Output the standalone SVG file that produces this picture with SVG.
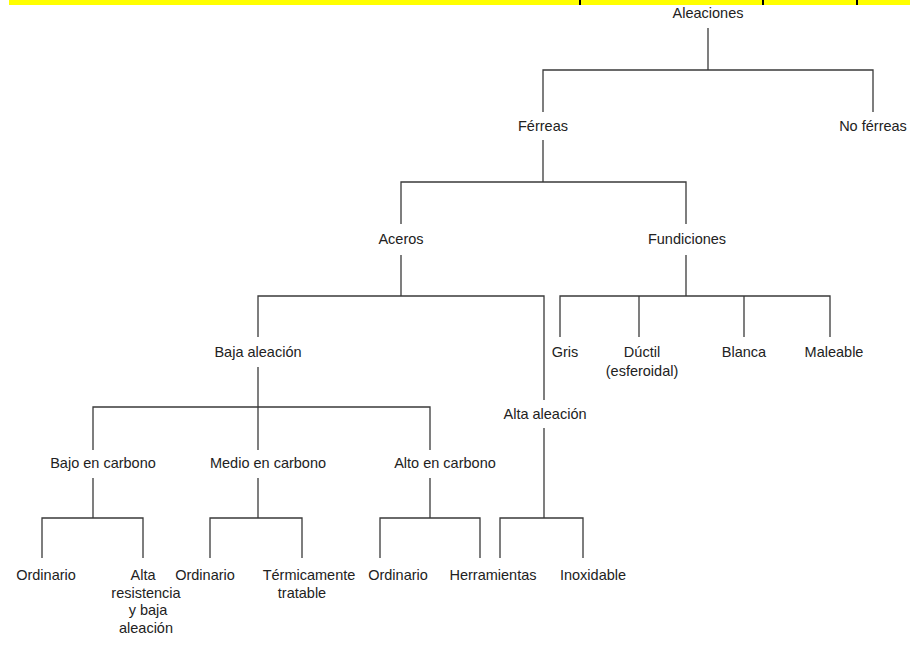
<svg xmlns="http://www.w3.org/2000/svg" width="910" height="646" viewBox="0 0 910 646">
<style>
  .t { font-family: "Liberation Sans", Arial, sans-serif; font-size: 14.5px; fill: #222; text-anchor: middle; }
  .c line, .c path { stroke: #3a3a3a; stroke-width: 1.3; fill: none; }
</style>
<rect width="910" height="646" fill="#ffffff"/>
<g id="banner">
  <rect x="9" y="0" width="901" height="5" fill="#ffff00"/>
  <line x1="580" y1="0" x2="580" y2="5" stroke="#000" stroke-width="2"/>
  <line x1="763" y1="0" x2="763" y2="5" stroke="#000" stroke-width="2"/>
  <line x1="857" y1="0" x2="857" y2="5" stroke="#000" stroke-width="2"/>
</g>
<g class="c" id="connectors">
  <line x1="708" y1="28" x2="708" y2="70"/>
  <path d="M543 112 V70 H873 V112"/>
  <line x1="543" y1="140" x2="543" y2="182"/>
  <path d="M401 224 V182 H686 V224"/>
  <line x1="401" y1="255" x2="401" y2="296"/>
  <path d="M258 337 V296 H544 V400"/>
  <line x1="686" y1="255" x2="686" y2="296"/>
  <path d="M560 337 V296 H830 V337"/>
  <line x1="639" y1="296" x2="639" y2="337"/>
  <line x1="744" y1="296" x2="744" y2="337"/>
  <line x1="258" y1="367" x2="258" y2="450"/>
  <path d="M93 450 V407 H430 V450"/>
  <line x1="93" y1="478" x2="93" y2="518"/>
  <path d="M42 558 V518 H143 V558"/>
  <line x1="258" y1="478" x2="258" y2="518"/>
  <path d="M210 558 V518 H302 V558"/>
  <line x1="430" y1="478" x2="430" y2="518"/>
  <path d="M380 558 V518 H480 V558"/>
  <line x1="544" y1="428" x2="544" y2="518"/>
  <path d="M500 558 V518 H583 V558"/>
</g>
<g id="n-aleaciones"><text class="t" x="708" y="18">Aleaciones</text></g>
<g id="n-ferreas"><text class="t" x="543" y="131">Férreas</text></g>
<g id="n-noferreas"><text class="t" x="873" y="131">No férreas</text></g>
<g id="n-aceros"><text class="t" x="401" y="244">Aceros</text></g>
<g id="n-fundiciones"><text class="t" x="687" y="244">Fundiciones</text></g>
<g id="n-baja"><text class="t" x="258" y="357">Baja aleación</text></g>
<g id="n-gris"><text class="t" x="565" y="357">Gris</text></g>
<g id="n-ductil"><text class="t" x="642" y="357">Dúctil</text><text class="t" x="642" y="376">(esferoidal)</text></g>
<g id="n-blanca"><text class="t" x="744" y="357">Blanca</text></g>
<g id="n-maleable"><text class="t" x="834" y="357">Maleable</text></g>
<g id="n-alta"><text class="t" x="545" y="419">Alta aleación</text></g>
<g id="n-bajoc"><text class="t" x="103" y="468">Bajo en carbono</text></g>
<g id="n-medioc"><text class="t" x="268" y="468">Medio en carbono</text></g>
<g id="n-altoc"><text class="t" x="445" y="468">Alto en carbono</text></g>
<g id="n-ord1"><text class="t" x="46" y="580">Ordinario</text></g>
<g id="n-altares"><text class="t" x="143" y="580">Alta</text><text class="t" x="146" y="597.5">resistencia</text><text class="t" x="148" y="615">y baja</text><text class="t" x="146" y="632.5">aleación</text></g>
<g id="n-ord2"><text class="t" x="205" y="580">Ordinario</text></g>
<g id="n-termic"><text class="t" x="309" y="580">Térmicamente</text><text class="t" x="302" y="597.5">tratable</text></g>
<g id="n-ord3"><text class="t" x="398" y="580">Ordinario</text></g>
<g id="n-herr"><text class="t" x="493" y="580">Herramientas</text></g>
<g id="n-inox"><text class="t" x="593" y="580">Inoxidable</text></g>
</svg>
